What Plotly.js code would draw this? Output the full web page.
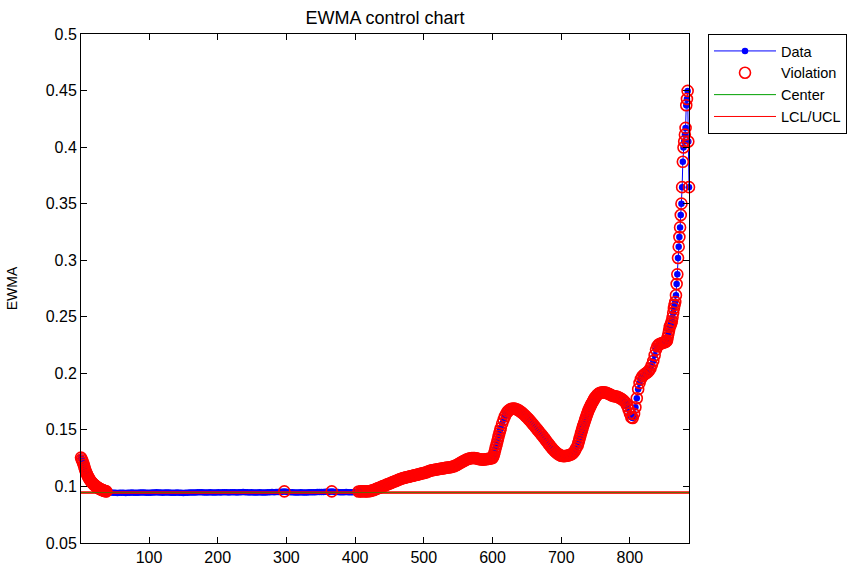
<!DOCTYPE html>
<html><head><meta charset="utf-8">
<script src="https://cdn.plot.ly/plotly-3.0.1.min.js"></script>
<style>html,body{margin:0;padding:0;background:#fff;}#chart{width:865px;height:566px;}</style>
</head><body><div id="chart"></div>
<script>
// sample index segments (start index, index step) for the value arrays below
const segStart = [1, 42, 410, 601, 614, 725, 752, 851];
const segStep  = [1, 3, 2, 1, 2, 1, 2, 1];

const ewmaA = [
0.1255,0.1240,0.1225,0.1208,0.1190,0.1170,0.1150,0.1133,0.1118,0.1104,
0.1091,0.1079,0.1068,0.1058,0.1049,0.1041,0.1034,0.1027,0.1021,0.1015,
0.1010,0.1005,0.1000,0.0996,0.0992,0.0988,0.0984,0.0980,0.0977,0.0974,
0.0971,0.0968,0.0966,0.0964,0.0962,0.0960,0.0958,0.0956,0.0953,0.0951];
const ewmaB = [
0.0949,0.0947,0.0945,0.0944,0.0943,0.0944,0.0945,0.0944,0.0943,0.0944,
0.0945,0.0946,0.0945,0.0944,0.0945,0.0946,0.0947,0.0946,0.0945,0.0944,
0.0945,0.0946,0.0947,0.0948,0.0947,0.0946,0.0945,0.0946,0.0947,0.0946,
0.0945,0.0944,0.0945,0.0946,0.0945,0.0944,0.0943,0.0944,0.0945,0.0946,
0.0947,0.0946,0.0947,0.0948,0.0949,0.0948,0.0947,0.0946,0.0947,0.0948,
0.0947,0.0946,0.0947,0.0948,0.0947,0.0948,0.0949,0.0948,0.0947,0.0948,
0.0949,0.0948,0.0947,0.0948,0.0949,0.0950,0.0949,0.0948,0.0947,0.0948,
0.0947,0.0946,0.0947,0.0948,0.0947,0.0946,0.0947,0.0948,0.0949,0.0950,
0.0949,0.0950,0.0951,0.0952,0.0953,0.0956,0.0953,0.0951,0.0949,0.0948,
0.0947,0.0946,0.0947,0.0948,0.0947,0.0946,0.0947,0.0948,0.0949,0.0948,
0.0949,0.0950,0.0951,0.0950,0.0951,0.0952,0.0953,0.0953,0.0956,0.0953,
0.0951,0.0950,0.0949,0.0948,0.0949,0.0950,0.0949,0.0948,0.0949,0.0950,
0.0951,0.0955,0.0956];
const ewmaC = [
0.0957,0.0958,0.0957,0.0956,0.0957,0.0958,0.0960,0.0963,0.0967,0.0971,
0.0976,0.0981,0.0986,0.0991,0.0996,0.1001,0.1006,0.1011,0.1016,0.1021,
0.1026,0.1031,0.1036,0.1041,0.1046,0.1051,0.1056,0.1061,0.1066,0.1070,
0.1074,0.1077,0.1080,0.1083,0.1086,0.1089,0.1092,0.1095,0.1098,0.1101,
0.1104,0.1107,0.1110,0.1113,0.1116,0.1119,0.1122,0.1126,0.1131,0.1136,
0.1140,0.1143,0.1146,0.1148,0.1150,0.1152,0.1154,0.1156,0.1158,0.1160,
0.1162,0.1164,0.1166,0.1168,0.1170,0.1172,0.1175,0.1179,0.1184,0.1190,
0.1197,0.1204,0.1211,0.1218,0.1225,0.1231,0.1237,0.1242,0.1246,0.1249,
0.1251,0.1252,0.1251,0.1249,0.1246,0.1243,0.1240,0.1238,0.1237,0.1238,
0.1240,0.1242,0.1244,0.1246,0.1248,0.1251];
const ewmaD = [0.1262,0.1280,0.1302,0.1326,0.1350,0.1374,0.1398,0.1422,0.1446,0.1470,0.1493,0.1515];
const ewmaE = [
0.1555,0.1590,0.1620,0.1644,0.1662,0.1674,0.1682,0.1687,0.1689,0.1688,
0.1685,0.1680,0.1673,0.1665,0.1656,0.1646,0.1635,0.1623,0.1611,0.1598,
0.1585,0.1571,0.1557,0.1542,0.1527,0.1512,0.1497,0.1482,0.1467,0.1452,
0.1437,0.1421,0.1405,0.1390,0.1373,0.1357,0.1342,0.1328,0.1315,0.1303,
0.1293,0.1284,0.1277,0.1272,0.1269,0.1268,0.1269,0.1271,0.1274,0.1278,
0.1283,0.1289,0.1300,0.1318,0.1340,0.1363];
const ewmaF = [
0.1385,0.1407,0.1429,0.1451,0.1473,0.1495,0.1515,0.1535,0.1554,0.1573,
0.1592,0.1610,0.1628,0.1645,0.1661,0.1676,0.1690,0.1703,0.1716,0.1728,
0.1739,0.1750,0.1761,0.1772,0.1782,0.1791];
const ewmaG = [
0.1806,0.1818,0.1826,0.1830,0.1832,0.1832,0.1830,0.1827,0.1822,0.1816,
0.1810,0.1804,0.1800,0.1797,0.1795,0.1792,0.1787,0.1780,0.1772,0.1763,
0.1752,0.1738,0.1712,0.1680,0.1645,0.1612,0.1605,0.1640,0.1700,0.1780,
0.1860,0.1915,0.1950,0.1972,0.1985,0.1995,0.2003,0.2012,0.2025,0.2045,
0.2075,0.2110,0.2160,0.2210,0.2240,0.2255,0.2262,0.2266,0.2270,0.2275];
const ewmaH = [
0.2277,0.2280,0.2284,0.2290,0.2320,0.2350,0.2380,0.2410,0.2425,0.2440,
0.2460,0.2495,0.2535,0.2575,0.2605,0.2630,0.2690,0.2790,0.2875,0.3020,
0.3120,0.3205,0.3290,0.3400,0.3500,0.3646,0.3870,0.3997,0.4050,0.4110,
0.4170,0.4370,0.4425,0.4497,0.4050,0.3646];

const centerValue = 0.0946;
const uclValue = 0.0953;
const lclValue = 0.0939;
const xFirst = 1, xLast = 886;

const xTickVals = [100, 200, 300, 400, 500, 600, 700, 800];
const yTickVals = [0.05, 0.1, 0.15, 0.2, 0.25, 0.3, 0.35, 0.4, 0.45, 0.5];
const yTickText = ['0.05','0.1','0.15','0.2','0.25','0.3','0.35','0.4','0.45','0.5'];

const segValues = [ewmaA, ewmaB, ewmaC, ewmaD, ewmaE, ewmaF, ewmaG, ewmaH];
const idx = [], ewma = [];
segValues.forEach((vals, s) => {
  vals.forEach((v, i) => { idx.push(segStart[s] + i * segStep[s]); ewma.push(v); });
});
const vx = [], vy = [];
idx.forEach((x, i) => { if (ewma[i] > uclValue + 0.00015 || ewma[i] < lclValue) { vx.push(x); vy.push(ewma[i]); } });

const FONT = 'Liberation Sans, Arial, Helvetica, sans-serif';

const traces = [
  {x: idx, y: ewma, name: 'Data', type: 'scatter', mode: 'lines+markers',
   line: {color: '#0000ff', width: 1}, marker: {color: '#0000ff', size: 6.5, symbol: 'circle'}, cliponaxis: false},
  {x: vx, y: vy, name: 'Violation', type: 'scatter', mode: 'markers',
   marker: {color: '#ff0000', size: 11, symbol: 'circle-open', line: {width: 1.6, color: '#ff0000'}}, cliponaxis: false},
  {x: [xFirst, xLast], y: [centerValue, centerValue], name: 'Center', type: 'scatter', mode: 'lines',
   line: {color: '#00a000', width: 1}},
  {x: [xFirst, xLast, null, xFirst, xLast], y: [lclValue, lclValue, null, uclValue, uclValue], name: 'LCL/UCL',
   type: 'scatter', mode: 'lines', line: {color: '#ff0000', width: 1}, connectgaps: false}
];

const layout = {
  width: 865, height: 566,
  margin: {l: 81, r: 176, t: 34, b: 23, pad: 0},
  paper_bgcolor: '#ffffff', plot_bgcolor: '#ffffff',
  font: {family: FONT, color: '#000000', size: 16},
  showlegend: true,
  title: {text: 'EWMA control chart', font: {family: FONT, size: 18, color: '#000'},
          xref: 'paper', x: 0.5, xanchor: 'center', yref: 'container', y: 1 - 18/566, yanchor: 'middle'},
  xaxis: {range: [xFirst, xLast], tickvals: xTickVals, ticks: 'inside', ticklen: 6, tickcolor: '#000',
          showline: true, linecolor: '#000', linewidth: 1, mirror: 'allticks', showgrid: false, zeroline: false,
          tickfont: {family: FONT, size: 16, color: '#000'}},
  yaxis: {range: [0.05, 0.5], tickvals: yTickVals, ticktext: yTickText, ticks: 'inside', ticklen: 6, tickcolor: '#000',
          showline: true, linecolor: '#000', linewidth: 1, mirror: 'allticks', showgrid: false, zeroline: false,
          tickfont: {family: FONT, size: 16, color: '#000'},
          title: {text: 'EWMA', font: {family: FONT, size: 14, color: '#000'}, standoff: 24}},
  legend: {x: (708 - 81) / 608, xanchor: 'left', y: 1, yanchor: 'top', bgcolor: '#fff',
           bordercolor: '#000', borderwidth: 1, font: {family: FONT, size: 14.5, color: '#000'},
           itemwidth: 62, tracegroupgap: 0}
};

Plotly.newPlot('chart', traces, layout, {staticPlot: true, displayModeBar: false});
</script>
</body></html>
